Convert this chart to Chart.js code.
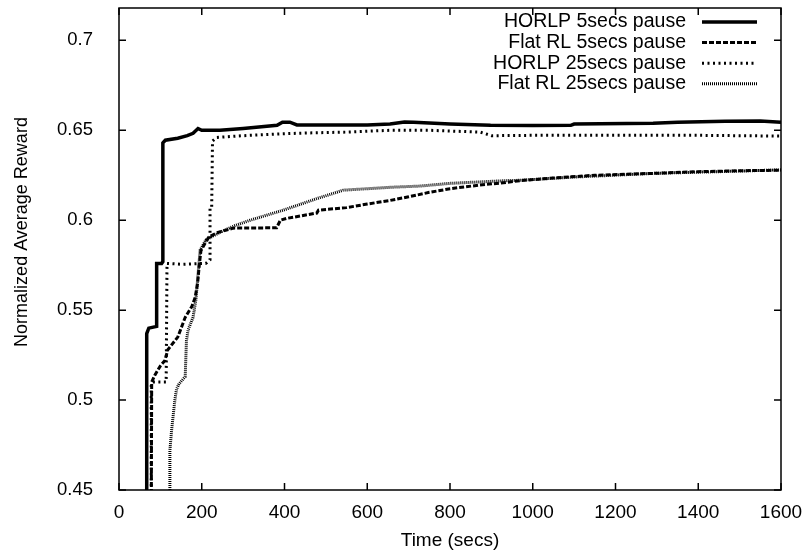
<!DOCTYPE html>
<html>
<head>
<meta charset="utf-8">
<script src="https://cdn.jsdelivr.net/npm/chart.js@4.4.0/dist/chart.umd.min.js"></script>
<style>
  body { margin: 0; background: #fff; }
</style>
</head>
<body>
<canvas id="grafico-reward" width="810" height="558"></canvas>
<script>
// Datos (tiempo en segundos, recompensa normalizada)
const tiempoHorlp5 = [67, 67, 72, 91, 91, 103, 106, 106, 112, 142, 165, 179, 191, 200, 244, 300, 382, 395, 413, 430, 500, 600, 655, 690, 712, 800, 898, 1000, 1092, 1100, 1291, 1350, 1465, 1550, 1600];
const rewardHorlp5 = [0.44, 0.537, 0.540, 0.541, 0.576, 0.576, 0.577, 0.643, 0.6445, 0.6456, 0.647, 0.6483, 0.651, 0.650, 0.650, 0.651, 0.6528, 0.6545, 0.6545, 0.653, 0.653, 0.653, 0.6535, 0.6546, 0.6545, 0.6535, 0.6528, 0.6527, 0.6528, 0.6535, 0.6539, 0.6545, 0.655, 0.6552, 0.6545];

const tiempoFlat5 = [78, 79, 87, 100, 111, 118, 142, 160, 176, 184, 190, 194, 198, 210, 217, 236, 276, 381, 390, 405, 478, 482, 550, 600, 655, 700, 750, 800, 870, 935, 969, 1050, 1150, 1298, 1400, 1500, 1600];
const rewardFlat5 = [0.44, 0.510, 0.514, 0.519, 0.522, 0.528, 0.535, 0.546, 0.552, 0.557, 0.565, 0.575, 0.583, 0.588, 0.5906, 0.593, 0.5956, 0.5958, 0.600, 0.601, 0.604, 0.6056, 0.607, 0.609, 0.611, 0.613, 0.6155, 0.6175, 0.6195, 0.621, 0.622, 0.6235, 0.625, 0.6261, 0.627, 0.6275, 0.6278];

const tiempoHorlp25 = [78, 78, 82, 114, 116, 150, 210, 220, 220, 224, 226, 236, 300, 390, 450, 550, 655, 750, 873, 900, 1000, 1200, 1400, 1600];
const rewardHorlp25 = [0.44, 0.509, 0.510, 0.510, 0.576, 0.5755, 0.576, 0.578, 0.607, 0.607, 0.644, 0.646, 0.647, 0.648, 0.6485, 0.649, 0.650, 0.650, 0.649, 0.647, 0.6472, 0.6472, 0.6472, 0.6468];

const tiempoFlat25 = [123, 123, 127, 135, 139, 145, 160, 163, 167, 179, 186, 190, 196, 210, 244, 280, 317, 397, 478, 542, 655, 728, 800, 935, 969, 1100, 1298, 1450, 1600];
const rewardFlat25 = [0.44, 0.472, 0.483, 0.500, 0.506, 0.509, 0.513, 0.533, 0.539, 0.546, 0.556, 0.567, 0.5833, 0.589, 0.5933, 0.597, 0.600, 0.6056, 0.612, 0.6167, 0.6183, 0.619, 0.6205, 0.622, 0.6222, 0.624, 0.6261, 0.627, 0.628];

const etiquetas = ['HORLP 5secs pause', 'Flat RL 5secs pause', 'HORLP 25secs pause', 'Flat RL 25secs pause'];
const ticksX = [0, 200, 400, 600, 800, 1000, 1200, 1400, 1600];
const ticksY = [0.45, 0.5, 0.55, 0.6, 0.65, 0.7];
const tituloY = 'Normalized Average Reward';

const fuente = '"Liberation Sans", Arial, sans-serif';

// Junta tiempos y valores en puntos {x, y}
const aPuntos = (ts, vs) => ts.map((t, i) => ({ x: t, y: vs[i] }));

// Marco con ticks hacia adentro en los cuatro lados (estilo gnuplot)
const marcoGnuplot = {
  id: 'marcoGnuplot',
  afterDraw(chart) {
    const { ctx, chartArea: a, scales: { x, y } } = chart;
    ctx.save();
    ctx.strokeStyle = '#000';
    ctx.lineWidth = 1.5;
    ctx.setLineDash([]);
    ctx.strokeRect(a.left, a.top, a.right - a.left, a.bottom - a.top);
    ctx.beginPath();
    x.ticks.forEach(t => {
      const px = x.getPixelForValue(t.value);
      ctx.moveTo(px, a.bottom); ctx.lineTo(px, a.bottom - 7);
      ctx.moveTo(px, a.top); ctx.lineTo(px, a.top + 7);
    });
    y.ticks.forEach(t => {
      const py = y.getPixelForValue(t.value);
      ctx.moveTo(a.left, py); ctx.lineTo(a.left + 7, py);
      ctx.moveTo(a.right, py); ctx.lineTo(a.right - 7, py);
    });
    ctx.stroke();

    // titulo del eje y, un poco por encima del centro como en el original
    ctx.font = `18px ${fuente}`;
    ctx.fillStyle = '#000';
    ctx.textAlign = 'center';
    ctx.textBaseline = 'middle';
    ctx.translate(22, 232);
    ctx.rotate(-Math.PI / 2);
    ctx.fillText(tituloY, 0, 0);
    ctx.restore();
  }
};

// Leyenda: texto alineado a la derecha y muestra de linea a la derecha
const leyendaGnuplot = {
  id: 'leyendaGnuplot',
  afterDraw(chart) {
    const { ctx } = chart;
    ctx.save();
    ctx.font = `19.5px ${fuente}`;
    ctx.textAlign = 'right';
    ctx.textBaseline = 'middle';
    ctx.fillStyle = '#000';
    ctx.strokeStyle = '#000';
    chart.data.datasets.forEach((ds, i) => {
      const yy = 22 + i * 20.6;
      ctx.fillText(ds.label, 686, yy);
      ctx.beginPath();
      ctx.setLineDash(ds.borderDash || []);
      ctx.lineWidth = ds.borderWidth;
      ctx.moveTo(702, yy);
      ctx.lineTo(757, yy);
      ctx.stroke();
    });
    ctx.restore();
  }
};

const crearGrafico = () => {
  const estilos = [
    { borderWidth: 3.5, borderDash: [] },
    { borderWidth: 3, borderDash: [5, 2] },
    { borderWidth: 3, borderDash: [2, 3.5] },
    { borderWidth: 3, borderDash: [1, 1] }
  ];
  const series = [
    aPuntos(tiempoHorlp5, rewardHorlp5),
    aPuntos(tiempoFlat5, rewardFlat5),
    aPuntos(tiempoHorlp25, rewardHorlp25),
    aPuntos(tiempoFlat25, rewardFlat25)
  ];
  const data = {
    datasets: series.map((s, i) => ({
      label: etiquetas[i],
      data: s,
      borderColor: '#000',
      backgroundColor: '#000',
      borderWidth: estilos[i].borderWidth,
      borderDash: estilos[i].borderDash,
      pointRadius: 0,
      tension: 0,
      fill: false
    }))
  };
  const config = {
    type: 'line',
    data: data,
    options: {
      responsive: false,
      animation: false,
      layout: { padding: { left: 0, right: 29, top: 8, bottom: 0 } },
      plugins: {
        legend: { display: false },
        tooltip: { enabled: false }
      },
      scales: {
        x: {
          type: 'linear',
          min: 0,
          max: 1600,
          afterBuildTicks: s => { s.ticks = ticksX.map(v => ({ value: v })); },
          afterFit: s => { s.height = 68; s.paddingLeft = 0; s.paddingRight = 0; },
          grid: { display: false },
          border: { display: false },
          ticks: {
            padding: 3,
            color: '#000',
            font: { family: fuente, size: 19 },
            callback: v => String(v)
          },
          title: {
            display: true,
            text: 'Time (secs)',
            color: '#000',
            font: { family: fuente, size: 19 },
            padding: { top: 0, bottom: 6 }
          }
        },
        y: {
          type: 'linear',
          min: 0.45,
          max: 0.718,
          afterBuildTicks: s => { s.ticks = ticksY.map(v => ({ value: v })); },
          afterFit: s => { s.width = 119; s.paddingTop = 0; s.paddingBottom = 0; },
          grid: { display: false },
          border: { display: false },
          ticks: {
            padding: 18,
            color: '#000',
            font: { family: fuente, size: 18.5 },
            callback: v => String(v)
          }
        }
      }
    },
    plugins: [marcoGnuplot, leyendaGnuplot]
  };
  const ctx = document.querySelector('#grafico-reward').getContext('2d');
  new Chart(ctx, config);
};

crearGrafico();
</script>
</body>
</html>
